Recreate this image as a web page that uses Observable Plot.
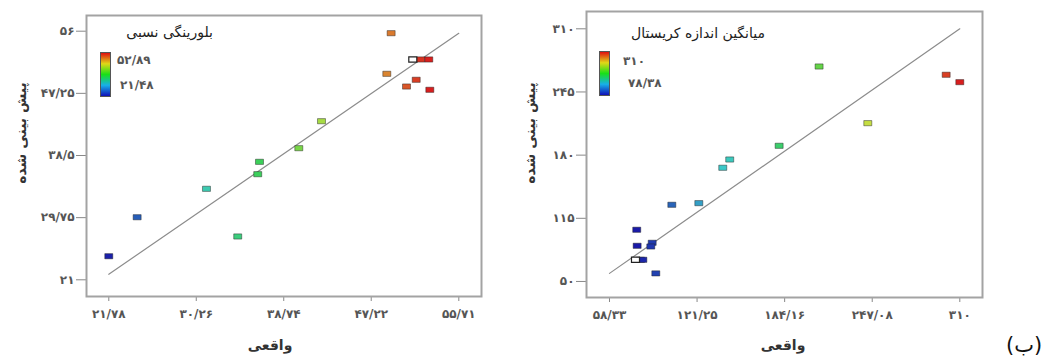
<!DOCTYPE html>
<html>
<head>
<meta charset="utf-8">
<script src="https://cdn.jsdelivr.net/npm/d3@7"></script>
<script src="https://cdn.jsdelivr.net/npm/@observablehq/plot@0.6"></script>
<style>
  body { margin: 0; background: #fff; }
  #wrap { position: relative; width: 1048px; height: 360px; background: #fff; overflow: hidden; font-family: "DejaVu Sans", sans-serif; }
  #wrap svg { position: absolute; top: 0; }
  .t { position: absolute; white-space: nowrap; line-height: 1; }
  .ytitle { font-weight: bold; font-size: 14px; color: #333; direction: rtl; transform: translate(-50%, -50%) rotate(-90deg); }
  .xtitle { font-weight: bold; font-size: 14px; color: #333; direction: rtl; transform: translate(-50%, -50%); }
  .ltitle { font-size: 14px; color: #222; direction: rtl; transform: translateY(-50%); }
  .llab { font-size: 12px; font-weight: bold; color: #555; transform: translateY(-50%); }
  .cbar { position: absolute; width: 9px; height: 43px; border: 1px solid #555;
          background: linear-gradient(to top, #1010b8, #18b0e8 25%, #18e018 50%, #e0d818 75%, #e01010); }
  .tag { font-size: 21px; color: #111; direction: ltr; unicode-bidi: bidi-override; font-family: "DejaVu Sans", sans-serif; }
</style>
</head>
<body>
<div id="wrap"></div>
<script>
// ---------- Left panel: relative crystallinity ----------
const leftActual    = [49.15, 52.02, 52.80, 48.73, 51.58, 50.64, 52.90, 42.40, 40.20, 36.39, 36.22, 31.25, 24.53, 34.28, 21.78];
const leftPredicted = [55.72, 52.02, 52.02, 50.00, 49.16, 48.21, 47.75, 43.33, 39.53, 37.61, 35.87, 33.81, 29.81, 27.10, 24.32];
const leftSelActual = [51.25];
const leftSelPredicted = [52.02];
const leftFit = [21.78, 55.71];
const leftXTicks = [21.78, 30.26, 38.74, 47.22, 55.71];
const leftXTickLabels = ["۲۱/۷۸", "۳۰/۲۶", "۳۸/۷۴", "۴۷/۲۲", "۵۵/۷۱"];
const leftYTicks = [56, 47.25, 38.5, 29.75, 21];
const leftYTickLabels = ["۵۶", "۴۷/۲۵", "۳۸/۵", "۲۹/۷۵", "۲۱"];
const leftLegendRange = [21.48, 52.89];
const leftLegendLabels = ["۵۲/۸۹", "۲۱/۴۸"];
const leftTitle = "بلورینگی نسبی";

// ---------- Right panel: mean crystal size ----------
const rightActual    = [144.7, 139.7, 208.9, 300.2, 310.0, 243.9, 180.2, 103.1, 122.5, 77.9, 78.2, 89.0, 88.0, 80.6, 82.3, 91.6];
const rightPredicted = [175.5, 167.0, 271.2, 262.7, 255.1, 212.9, 189.6, 128.9, 130.6, 103.2, 86.7, 89.8, 86.0, 72.3, 72.3, 58.3];
const rightSelActual = [77.0];
const rightSelPredicted = [72.3];
const rightFit = [58.33, 310];
const rightXTicks = [58.33, 121.25, 184.16, 247.08, 310];
const rightXTickLabels = ["۵۸/۳۳", "۱۲۱/۲۵", "۱۸۴/۱۶", "۲۴۷/۰۸", "۳۱۰"];
const rightYTicks = [310, 245, 180, 115, 50];
const rightYTickLabels = ["۳۱۰", "۲۴۵", "۱۸۰", "۱۱۵", "۵۰"];
const rightLegendRange = [78.38, 310];
const rightLegendLabels = ["۳۱۰", "۷۸/۳۸"];
const rightTitle = "میانگین اندازه کریستال";

const xTitle = "واقعی";
const yTitle = "پیش بینی شده";
const panelTag = "(ب)";

const colorStops = ["#1a1aa8", "#3cc8d0", "#3cd04c", "#dce040", "#d81e1e"];
const rectSymbol = { draw(ctx) { ctx.rect(-4, -2.6, 8, 5.2); } };

function panel(o) {
  const rows = o.actual.map((a, i) => ({a, p: o.predicted[i]}));
  const sel = o.selA.map((a, i) => ({a, p: o.selP[i]}));
  const fit = o.fit.map(v => ({a: v, p: v}));
  const xl = new Map(o.xTicks.map((v, i) => [v, o.xLabels[i]]));
  const yl = new Map(o.yTicks.map((v, i) => [v, o.yLabels[i]]));
  const svg = Plot.plot({
    width: o.width, height: 360,
    marginLeft: o.ml, marginRight: o.mr, marginTop: o.mt, marginBottom: o.mb,
    style: {fontFamily: "DejaVu Sans", background: "transparent"},
    x: {domain: o.xDomain},
    y: {domain: o.yDomain},
    color: {type: "linear", domain: o.cDomain, interpolate: d3.piecewise(d3.interpolateRgb, colorStops), clamp: true},
    marks: [
      Plot.axisX(o.xTicks, {tickFormat: d => xl.get(d), tickSize: 5, tickPadding: 8, label: null, stroke: "#888", fill: "#555", fontSize: 12, fontWeight: "bold"}),
      Plot.axisY(o.yTicks, {tickFormat: d => yl.get(d), tickSize: 10, tickPadding: 2, label: null, stroke: "#888", fill: "#555", fontSize: 12, fontWeight: "bold"}),
      Plot.frame({stroke: "#a3a3a3", strokeWidth: 2}),
      Plot.line(fit, {x: "a", y: "p", stroke: "#8c8c8c", strokeWidth: 1.2}),
      Plot.dot(rows, {x: "a", y: "p", symbol: rectSymbol, fill: "a", stroke: "#222", strokeOpacity: 0.45, strokeWidth: 1}),
      Plot.dot(sel, {x: "a", y: "p", symbol: rectSymbol, fill: "white", stroke: "#222", strokeWidth: 1.2})
    ]
  });
  svg.style.left = o.left + "px";
  return svg;
}

const wrap = document.getElementById("wrap");
wrap.appendChild(panel({
  left: 0, width: 500, ml: 86, mr: 19, mt: 15, mb: 64,
  xDomain: [19.62, 57.91], yDomain: [18.65, 58.21], cDomain: leftLegendRange,
  actual: leftActual, predicted: leftPredicted, selA: leftSelActual, selP: leftSelPredicted, fit: leftFit,
  xTicks: leftXTicks, xLabels: leftXTickLabels, yTicks: leftYTicks, yLabels: leftYTickLabels
}));
wrap.appendChild(panel({
  left: 500, width: 548, ml: 86, mr: 66, mt: 11, mb: 63,
  xDomain: [41.81, 326.3], yDomain: [33.5, 327.8], cDomain: rightLegendRange,
  actual: rightActual, predicted: rightPredicted, selA: rightSelActual, selP: rightSelPredicted, fit: rightFit,
  xTicks: rightXTicks, xLabels: rightXTickLabels, yTicks: rightYTicks, yLabels: rightYTickLabels
}));

function addText(cls, text, css) {
  const d = document.createElement("div");
  d.className = "t " + cls;
  d.textContent = text;
  Object.assign(d.style, css);
  wrap.appendChild(d);
}
function addBar(css) {
  const d = document.createElement("div");
  d.className = "cbar";
  Object.assign(d.style, css);
  wrap.appendChild(d);
}

// left panel annotations
addText("ytitle", yTitle, {left: "21px", top: "133px"});
addText("xtitle", xTitle, {left: "270px", top: "345px"});
addText("ltitle", leftTitle, {right: (1048 - 213) + "px", top: "32px"});
addBar({left: "100px", top: "52px"});
addText("llab", leftLegendLabels[0], {left: "117px", top: "60px"});
addText("llab", leftLegendLabels[1], {left: "120px", top: "85px"});

// right panel annotations
addText("ytitle", yTitle, {left: "530px", top: "133px"});
addText("xtitle", xTitle, {left: "783px", top: "345px"});
addText("ltitle", rightTitle, {right: (1048 - 765) + "px", top: "33px"});
addBar({left: "599px", top: "51px"});
addText("llab", rightLegendLabels[0], {left: "623px", top: "61px"});
addText("llab", rightLegendLabels[1], {left: "628px", top: "83px"});

addText("tag", panelTag, {left: "1006px", top: "335px"});
</script>
</body>
</html>
